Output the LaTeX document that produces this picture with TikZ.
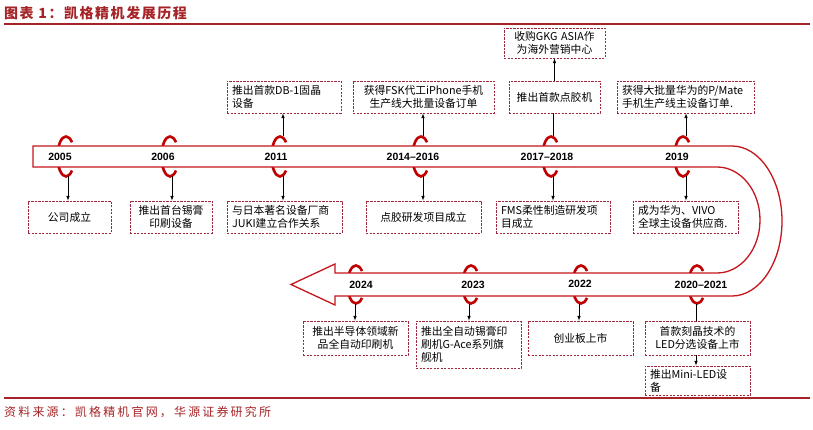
\documentclass[tikz,border=0pt]{standalone}
\usepackage{fontspec}
\usepackage{xcolor}
\setmainfont{Noto Sans CJK SC}
\newfontfamily\yrfont{Liberation Sans}
\definecolor{bandred}{RGB}{196,22,28}
\definecolor{ringred}{RGB}{192,0,0}
\definecolor{boxline}{RGB}{160,40,62}
\definecolor{headred}{RGB}{166,36,40}

\begin{document}
\begin{tikzpicture}[x=1pt,y=-1pt,
  box/.style={draw=boxline,line width=0.9pt,dash pattern=on 2.2pt off 1.3pt,inner xsep=5pt,inner ysep=0pt,font=\fontsize{10.8}{13}\selectfont},
  lbox/.style={box,align=left},
  cbox/.style={box,align=center},
  yr/.style={font=\yrfont\bfseries\fontsize{10.5}{12}\selectfont,inner sep=0pt},
  ring/.style={draw=ringred,line width=2.6pt},
  conn/.style={line width=0.6pt}]
  \useasboundingbox (0,0) rectangle (813,430);
  \node[anchor=west,inner sep=0pt,text=headred,font=\fontsize{14}{16}\selectfont\bfseries\addfontfeature{LetterSpace=11}] (ttl) at (4,13) {图表 1：凯格精机发展历程};
  \draw[headred,line width=2pt] (4,24) -- (810,24); \draw[headred,line width=1.6pt] (4,398) -- (810,398);
  \node[anchor=west,inner sep=0pt,text=headred,font=\fontsize{12}{14}\selectfont\addfontfeature{LetterSpace=18}] (src) at (4,412) {资料来源：凯格精机官网，华源证券研究所};

  \draw[ring] (72,170.6) arc[start angle=45,end angle=315,x radius=8.5,y radius=20];
  \draw[ring] (176,170.6) arc[start angle=45,end angle=315,x radius=8.5,y radius=20];
  \draw[ring] (286,170.6) arc[start angle=45,end angle=315,x radius=8.5,y radius=20];
  \draw[ring] (427,170.6) arc[start angle=45,end angle=315,x radius=8.5,y radius=20];
  \draw[ring] (557,170.6) arc[start angle=45,end angle=315,x radius=8.5,y radius=20];
  \draw[ring] (689,170.6) arc[start angle=45,end angle=315,x radius=8.5,y radius=20];
  \draw[ring] (362,297.9) arc[start angle=45,end angle=315,x radius=8.5,y radius=19];
  \draw[ring] (477,297.9) arc[start angle=45,end angle=315,x radius=8.5,y radius=19];
  \draw[ring] (587,297.9) arc[start angle=45,end angle=315,x radius=8.5,y radius=19];
  \draw[ring] (703,297.9) arc[start angle=45,end angle=315,x radius=8.5,y radius=19];
  \draw[bandred,line width=1.3pt,fill=white] (33,146) -- (732,146) arc[start angle=-90,end angle=90,x radius=50,y radius=75]
    -- (335,296) -- (335,305) -- (291,284.5) -- (335,264) -- (335,273) -- (717,273)
    arc[start angle=90,end angle=-90,x radius=43,y radius=53] -- (33,167) -- cycle;

  \node[yr] (y05) at (60,156.5) {2005}; \node[yr] (y06) at (163,156.5) {2006}; \node[yr] (y11) at (276,156.5) {2011};
  \node[yr] (y14) at (413,156.5) {2014–2016}; \node[yr] (y17) at (547,156.5) {2017–2018}; \node[yr] (y19) at (677,156.5) {2019};
  \node[yr] (y24) at (361,285) {2024}; \node[yr] (y23) at (473,285) {2023}; \node[yr] (y22) at (580,284) {2022};
  \node[yr] (y20) at (701,285) {2020–2021};

  \node[lbox,text width=104pt,minimum height=32pt] (uDB) at (284,97) {推出首款DB-1固晶\\设备};
  \node[cbox,text width=131pt,minimum height=32pt] (uFSK) at (423.5,97) {获得FSK代工iPhone手机\\生产线大批量设备订单};
  \node[cbox,text width=81pt,minimum height=32pt] (uDJ) at (554.5,97) {推出首款点胶机};
  \node[cbox,text width=91pt,minimum height=30pt] (uGKG) at (554.5,43) {收购GKG ASIA作\\为海外营销中心};
  \node[lbox,text width=127pt,minimum height=32pt] (uHW) at (685.5,97) {获得大批量华为的P/Mate\\手机生产线主设备订单.};

  \node[cbox,text width=73pt,minimum height=32pt] (lGS) at (69.5,217) {公司成立};
  \node[cbox,text width=72pt,minimum height=32pt] (lXG) at (171,217) {推出首台锡膏\\印刷设备};
  \node[lbox,text width=105pt,minimum height=32pt] (lJK) at (284.5,217) {与日本著名设备厂商\\JUKI建立合作关系};
  \node[cbox,text width=105pt,minimum height=32pt] (lDJ) at (423.5,217) {点胶研发项目成立};
  \node[lbox,text width=104pt,minimum height=32pt] (lFMS) at (553,217) {FMS柔性制造研发项\\目成立};
  \node[lbox,text width=95pt,minimum height=32pt] (lHW) at (685.5,217) {成为华为、VIVO\\全球主设备供应商.};

  \node[cbox,text width=95pt,minimum height=34pt] (dBD) at (355.5,338) {推出半导体领域新\\品全自动印刷机};
  \node[lbox,text width=95pt,minimum height=47pt] (dGA) at (468.5,344.5) {推出全自动锡膏印\\刷机G-Ace系列旗\\舰机};
  \node[cbox,text width=95pt,minimum height=34pt] (dCY) at (580.5,338) {创业板上市};
  \node[cbox,text width=95pt,minimum height=34pt] (dLED) at (697.5,338) {首款刻晶技术的\\LED分选设备上市};
  \node[lbox,text width=95pt,minimum height=29pt] (dMini) at (697.5,380.5) {推出Mini-LED设\\备};

  \coordinate (a05) at (68,176.5); \coordinate (a06) at (172,176.5); \coordinate (a11) at (283,176.5);
  \coordinate (a14) at (423,176.5); \coordinate (a17) at (553,176.5); \coordinate (a19) at (686,176.5);
  \coordinate (b11) at (283,136.5); \coordinate (b14) at (423,136.5); \coordinate (b17) at (553,136.5); \coordinate (b19) at (686,136.5);
  \coordinate (a24) at (355,303.5); \coordinate (a23) at (469,303.5); \coordinate (a22) at (579,303.5); \coordinate (a20) at (696,303.5);
  \draw[conn,-latex] (a05) -- (a05 |- lGS.north); \draw[conn,-latex] (a06) -- (a06 |- lXG.north);
  \draw[conn,-latex] (a11) -- (a11 |- lJK.north); \draw[conn,-latex] (a14) -- (a14 |- lDJ.north);
  \draw[conn,-latex] (a17) -- (a17 |- lFMS.north); \draw[conn,-latex] (a19) -- (a19 |- lHW.north);
  \draw[conn,-latex] (b11) -- (b11 |- uDB.south); \draw[conn,-latex] (b14) -- (b14 |- uFSK.south);
  \draw[conn] (b17) -- (b17 |- uDJ.south); \draw[conn,-latex] (b19) -- (b19 |- uHW.south);
  \draw[conn,-latex] (uDJ.north) -- (uGKG.south);
  \draw[conn,-latex] (a24) -- (a24 |- dBD.north); \draw[conn,-latex] (a23) -- (a23 |- dGA.north);
  \draw[conn,-latex] (a22) -- (a22 |- dCY.north); \draw[conn] (a20) -- (a20 |- dLED.north);
  \draw[conn,-latex] (a20 |- dLED.south) -- (a20 |- dMini.north);
\end{tikzpicture}
\end{document}
